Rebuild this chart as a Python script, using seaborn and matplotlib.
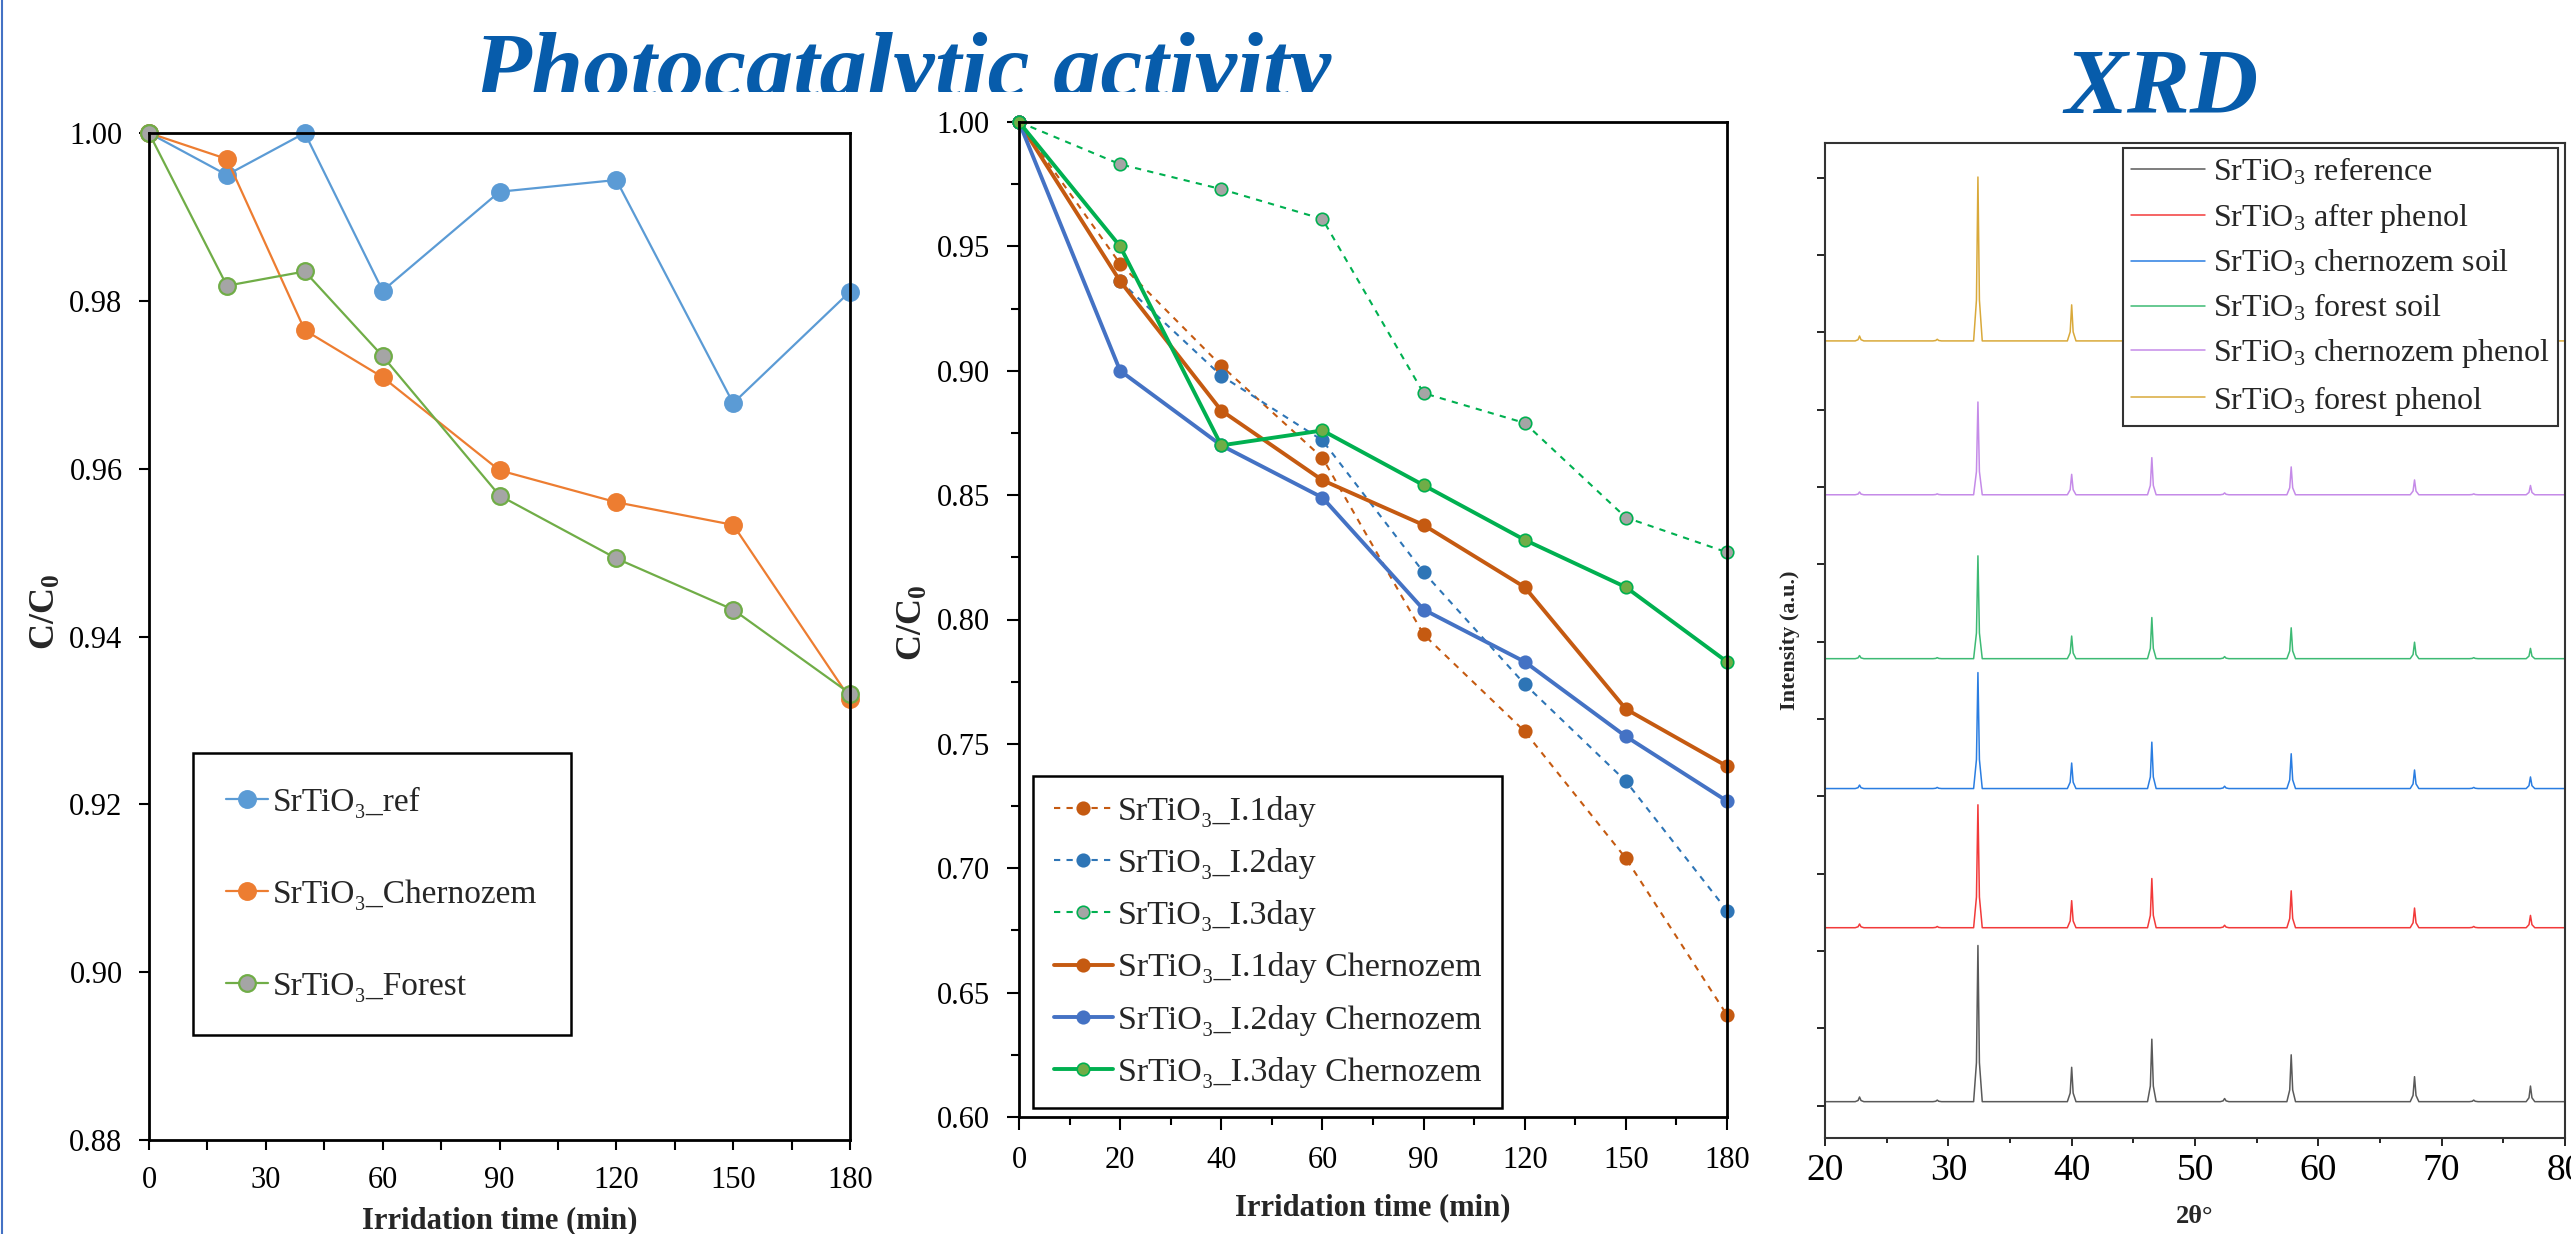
import matplotlib
matplotlib.use('Agg')
import numpy as np
import pandas as pd
import matplotlib.pyplot as plt
import seaborn as sns
from matplotlib.ticker import MultipleLocator, FormatStrFormatter, NullFormatter, FixedLocator
from matplotlib.lines import Line2D

# ---- left panel: photocatalytic activity, soils ----
times_left = [0, 20, 40, 60, 90, 120, 150, 180]
ref_left = [1.000, 0.995, 1.000, 0.9812, 0.993, 0.9944, 0.9678, 0.9811]
cherno_left = [1.000, 0.9969, 0.9765, 0.9709, 0.9598, 0.9560, 0.9533, 0.9326]
forest_left = [1.000, 0.9818, 0.9835, 0.9734, 0.9568, 0.9493, 0.9432, 0.9332]
labels_left = ['SrTiO₃_ref', 'SrTiO₃_Chernozem', 'SrTiO₃_Forest']

# ---- middle panel: categorical time axis ----
times_mid = ['0', '20', '40', '60', '90', '120', '150', '180']
day1 = [1.000, 0.943, 0.902, 0.865, 0.794, 0.755, 0.704, 0.641]
day2 = [1.000, 0.936, 0.898, 0.872, 0.819, 0.774, 0.735, 0.683]
day3 = [1.000, 0.983, 0.973, 0.961, 0.891, 0.879, 0.841, 0.827]
day1_ch = [1.000, 0.936, 0.884, 0.856, 0.838, 0.813, 0.764, 0.741]
day2_ch = [1.000, 0.900, 0.870, 0.849, 0.804, 0.783, 0.753, 0.727]
day3_ch = [1.000, 0.950, 0.870, 0.876, 0.854, 0.832, 0.813, 0.783]
labels_mid = ['SrTiO₃_I.1day', 'SrTiO₃_I.2day', 'SrTiO₃_I.3day',
              'SrTiO₃_I.1day Chernozem', 'SrTiO₃_I.2day Chernozem', 'SrTiO₃_I.3day Chernozem']

# ---- XRD: peak list ----
peak_pos = [22.8, 29.1, 32.4, 40.0, 46.5, 52.4, 57.8, 67.8, 72.6, 77.2]
peak_rel = [0.03, 0.01, 1.00, 0.22, 0.40, 0.02, 0.30, 0.16, 0.01, 0.10]
peak_dx = [-0.35, -0.12, 0.0, 0.12, 0.35]
peak_frac = [0.0, 0.25, 1.0, 0.25, 0.0]
xrd_labels = ['SrTiO$_3$ reference', 'SrTiO$_3$ after phenol', 'SrTiO$_3$ chernozem soil',
              'SrTiO$_3$ forest soil', 'SrTiO$_3$ chernozem phenol', 'SrTiO$_3$ forest phenol']
xrd_offset = [0.05, 2.30, 4.10, 5.78, 7.90, 9.89]
xrd_height = [2.02, 1.59, 1.50, 1.33, 1.20, 2.12]
xrd_colors = ['#5a5a5a', '#f23a3a', '#2a7de1', '#3dba74', '#c58be8', '#d9a93a']

sns.set_theme(style='ticks')
plt.rcParams['font.family'] = ['Liberation Serif', 'DejaVu Serif']
plt.rcParams['mathtext.fontset'] = 'custom'
plt.rcParams['mathtext.rm'] = 'Liberation Serif'
plt.rcParams['mathtext.it'] = 'Liberation Serif:italic'
plt.rcParams['mathtext.bf'] = 'Liberation Serif:bold'
plt.rcParams['axes.edgecolor'] = 'black'
plt.rcParams['xtick.color'] = 'black'
plt.rcParams['ytick.color'] = 'black'

W, H = 2571, 1234
fig = plt.figure(figsize=(W / 100, H / 100), dpi=100)
fig.patch.set_facecolor('white')


def px_axes(x0, y0, x1, y1):
    # pixel box (top-left origin) -> figure fraction axes
    return fig.add_axes([x0 / W, 1 - y1 / H, (x1 - x0) / W, (y1 - y0) / H])


ax1 = px_axes(149, 133, 850, 1140)
ax2 = px_axes(1019, 122, 1727, 1117)
ax3 = px_axes(1825, 143, 2565, 1138)

# ---------- left ----------
styles_left = [
    dict(color='#5b9bd5', markerfacecolor='#5b9bd5', markeredgecolor='#5b9bd5'),
    dict(color='#ed7d31', markerfacecolor='#ed7d31', markeredgecolor='#ed7d31'),
    dict(color='#70ad47', markerfacecolor='#a5a5a5', markeredgecolor='#70ad47'),
]
for vals, lab, st in zip([ref_left, cherno_left, forest_left], labels_left, styles_left):
    sns.lineplot(x=times_left, y=vals, ax=ax1, marker='o', markersize=12, linewidth=1.6,
                 markeredgewidth=1.6, clip_on=False, label=lab, **st)
ax1.set_xlim(0, 180)
ax1.set_ylim(0.88, 1.00)
ax1.xaxis.set_major_locator(MultipleLocator(30))
ax1.xaxis.set_minor_locator(MultipleLocator(15))
ax1.yaxis.set_major_locator(MultipleLocator(0.02))
ax1.yaxis.set_major_formatter(FormatStrFormatter('%.2f'))
ax1.tick_params(which='both', direction='out', length=7, width=1.5, labelsize=22, pad=12)
ax1.set_xlabel('Irridation time (min)', fontsize=22, fontweight='bold')
ax1.set_ylabel('C/C$_\\mathbf{0}$', fontsize=26, fontweight='bold')
ax1.xaxis.set_label_coords(0.5, -0.066)
ax1.xaxis.label.set_va('top')
ax1.yaxis.set_label_coords(-0.123, 0.524)
leg1 = ax1.legend(loc='upper left', bbox_to_anchor=(0.063, 0.384), fontsize=24, frameon=True,
                  fancybox=False, framealpha=1, edgecolor='black', borderpad=1.0,
                  labelspacing=1.85, handlelength=1.25, handletextpad=0.15, borderaxespad=0)
leg1.get_frame().set_linewidth(1.8)

# ---------- middle ----------
pos_mid = list(range(len(times_mid)))
styles_mid = [
    dict(color='#c55a11', linestyle='--', linewidth=1.5, markerfacecolor='#c55a11', markeredgecolor='#c55a11'),
    dict(color='#2e75b6', linestyle='--', linewidth=1.5, markerfacecolor='#2e75b6', markeredgecolor='#2e75b6'),
    dict(color='#00b050', linestyle='--', linewidth=1.5, markerfacecolor='#a5a5a5', markeredgecolor='#00b050'),
    dict(color='#c55a11', linestyle='-', linewidth=2.8, markerfacecolor='#c55a11', markeredgecolor='#c55a11'),
    dict(color='#4472c4', linestyle='-', linewidth=2.8, markerfacecolor='#4472c4', markeredgecolor='#4472c4'),
    dict(color='#00b050', linestyle='-', linewidth=2.8, markerfacecolor='#70ad47', markeredgecolor='#00b050'),
]
for vals, lab, st in zip([day1, day2, day3, day1_ch, day2_ch, day3_ch], labels_mid, styles_mid):
    line = sns.lineplot(x=pos_mid, y=vals, ax=ax2, marker='o', markersize=9, markeredgewidth=1.2,
                        clip_on=False, label=lab, **st).get_lines()[-1]
    if st['linestyle'] == '--':
        line.set_dashes((3, 3))
ax2.set_xlim(0, len(times_mid) - 1)
ax2.set_ylim(0.60, 1.00)
ax2.xaxis.set_major_locator(FixedLocator(pos_mid))
ax2.xaxis.set_minor_locator(MultipleLocator(0.5))
ax2.set_xticklabels(times_mid)
ax2.yaxis.set_major_locator(MultipleLocator(0.05))
ax2.yaxis.set_minor_locator(MultipleLocator(0.025))
ax2.yaxis.set_major_formatter(FormatStrFormatter('%.2f'))
ax2.tick_params(which='major', direction='out', length=9, width=1.5, labelsize=22, pad=12)
ax2.tick_params(which='minor', direction='out', length=6, width=1.5)
ax2.set_xlabel('Irridation time (min)', fontsize=22, fontweight='bold')
ax2.set_ylabel('C/C$_\\mathbf{0}$', fontsize=26, fontweight='bold')
ax2.xaxis.set_label_coords(0.5, -0.077)
ax2.xaxis.label.set_va('top')
ax2.yaxis.set_label_coords(-0.126, 0.4965)
leg2 = ax2.legend(loc='upper left', bbox_to_anchor=(0.02, 0.343), fontsize=24.5, frameon=True,
                  fancybox=False, framealpha=1, edgecolor='black', borderpad=0.6,
                  labelspacing=0.62, handlelength=1.75, handletextpad=0.15, borderaxespad=0)
leg2.get_frame().set_linewidth(1.8)

# ---------- XRD ----------
for lab, off, hgt, col in zip(xrd_labels, xrd_offset, xrd_height, xrd_colors):
    xs, ys = [20.0], [off]
    for p, r in zip(peak_pos, peak_rel):
        for dx, fr in zip(peak_dx, peak_frac):
            xs.append(p + dx)
            ys.append(off + hgt * r * fr)
    xs.append(80.0)
    ys.append(off)
    sns.lineplot(x=xs, y=ys, ax=ax3, sort=False, estimator=None, color=col,
                 linewidth=1.1, label=lab)
ax3.set_xlim(20, 80)
ax3.set_ylim(-0.42, 12.45)
ax3.xaxis.set_major_locator(MultipleLocator(10))
ax3.xaxis.set_minor_locator(MultipleLocator(5))
ax3.yaxis.set_major_locator(MultipleLocator(1))
ax3.yaxis.set_major_formatter(NullFormatter())
ax3.tick_params(which='major', direction='out', length=6, width=1.2, labelsize=27, pad=5)
ax3.tick_params(which='minor', direction='out', length=3.5, width=1.2)
for sp in ax3.spines.values():
    sp.set_linewidth(1.5)
    sp.set_color('#333333')
ax3.set_xlabel('2θ°', fontsize=19, fontweight='bold')
ax3.set_ylabel('Intensity (a.u.)', fontsize=16, fontweight='bold')
ax3.xaxis.set_label_coords(0.5, -0.067)
ax3.xaxis.label.set_va('top')
ax3.yaxis.set_label_coords(-0.034, 0.50)
leg3 = ax3.legend(loc='upper right', bbox_to_anchor=(0.9905, 0.995), fontsize=23, frameon=True,
                  fancybox=False, framealpha=1, edgecolor='#333333', borderpad=0.25,
                  labelspacing=0.42, handlelength=2.3, handletextpad=0.26, borderaxespad=0)
leg3.get_frame().set_linewidth(1.5)

for ax in (ax1, ax2):
    for sp in ax.spines.values():
        sp.set_linewidth(2.0)
        sp.set_color('black')

# ---------- titles ----------
title_col = '#075cab'
tax = fig.add_axes([0, 1 - 92 / H, 1, 92 / H])
tax.set_axis_off()
tax.text(902 / W, 1 - 97 / H, 'Photocatalytic activity', transform=fig.transFigure,
         ha='center', va='baseline', fontsize=68, fontweight='bold', fontstyle='italic',
         color=title_col, clip_on=True)
fig.text(2162 / W, 1 - 113 / H, 'XRD', ha='center', va='baseline', fontsize=68,
         fontweight='bold', fontstyle='italic', color=title_col)

fig.add_artist(Line2D([0.0007, 0.0007], [0, 1], transform=fig.transFigure, color='#4472c4', lw=1.5))

fig.savefig('out.png', dpi=100, facecolor='white')
